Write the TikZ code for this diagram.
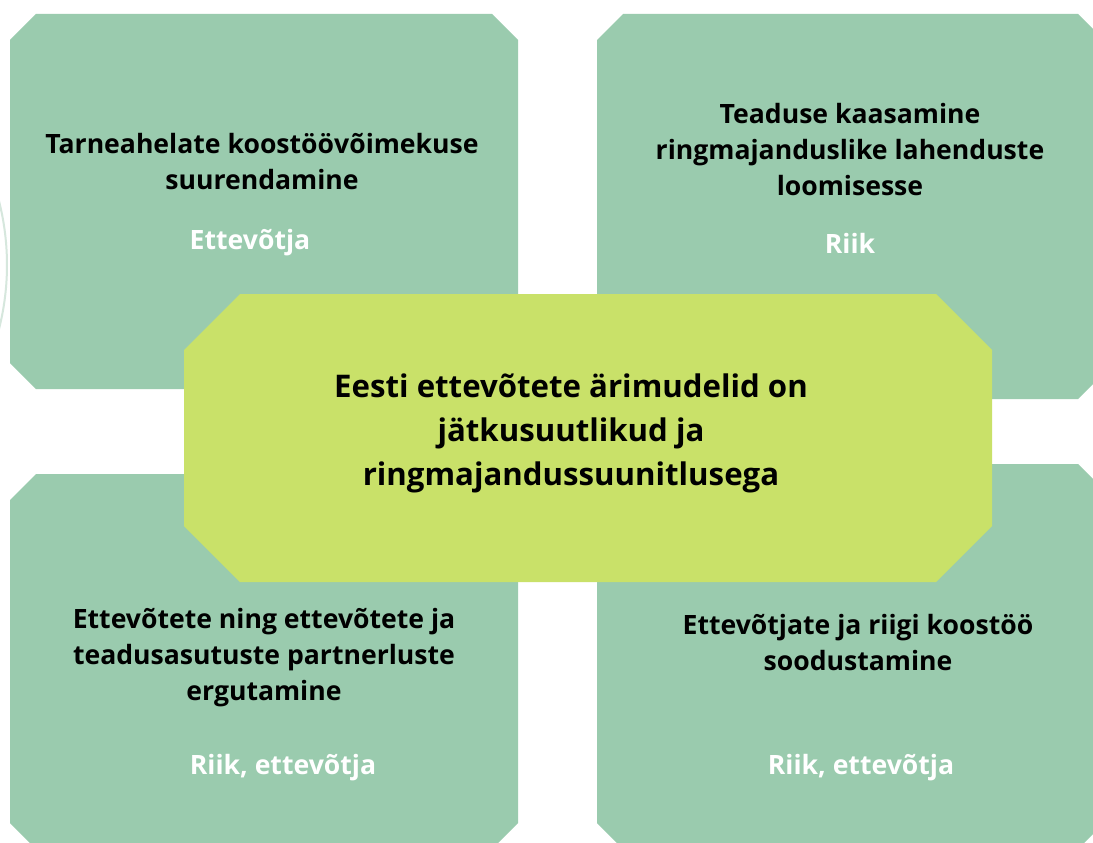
\documentclass[tikz,border=0pt]{standalone}
\usepackage{fontspec}
\setmainfont{Open Sans}
\definecolor{boxgreen}{HTML}{9ACBAE}
\definecolor{boxlime}{HTML}{C9E169}
\definecolor{arcgray}{HTML}{D6E7DD}
\newcommand{\chambox}[6]{%
  \fill[#1] (#2+#6,#3) -- (#4-#6,#3) -- (#4,#3+#6) -- (#4,#5-#6) -- (#4-#6,#5) -- (#2+#6,#5) -- (#2,#5-#6) -- (#2,#3+#6) -- cycle;}
\begin{document}
\begin{tikzpicture}[x=1pt,y=-1pt,
  title/.style={align=center,text=black,font=\fontsize{26.6}{36}\selectfont\bfseries,inner sep=0pt},
  ctitle/.style={align=center,text=black,font=\fontsize{31.2}{44}\selectfont\bfseries,inner sep=0pt},
  who/.style={text=white,font=\fontsize{26.6}{27}\selectfont\bfseries,inner sep=0pt}]
\useasboundingbox (0,0) rectangle (1093,843);
\clip (0,0) rectangle (1093,843);
\fill[white] (0,0) rectangle (1093,843);
\draw[arcgray,line width=2pt] (-253,265) ++(-16:260) arc[start angle=-16,end angle=16,radius=260];
\chambox{boxgreen}{10}{14}{518}{389}{26}
\chambox{boxgreen}{597}{14}{1104}{399}{26}
\chambox{boxgreen}{10}{474}{518}{849}{26}
\chambox{boxgreen}{597}{464}{1104}{849}{26}
\chambox{boxlime}{184}{294}{992}{582}{56}
\node[title] (tl) at (262,162) {Tarneahelate koostöövõimekuse\\suurendamine};
\node[who] (tlw) at (250,243) {Ettevõtja};
\node[title] (tr) at (850,150) {Teaduse kaasamine\\ringmajanduslike lahenduste\\loomisesse};
\node[who] (trw) at (850,243) {Riik};
\node[ctitle] (c) at (571,433) {Eesti ettevõtete ärimudelid on\\jätkusuutlikud ja\\ringmajandussuunitlusega};
\node[title] (bl) at (264,658) {Ettevõtete ning ettevõtete ja\\teadusasutuste partnerluste\\ergutamine};
\node[who] (blw) at (283,768) {Riik, ettevõtja};
\node[title] (br) at (858,643) {Ettevõtjate ja riigi koostöö\\soodustamine};
\node[who] (brw) at (861,768) {Riik, ettevõtja};
\end{tikzpicture}
\end{document}
